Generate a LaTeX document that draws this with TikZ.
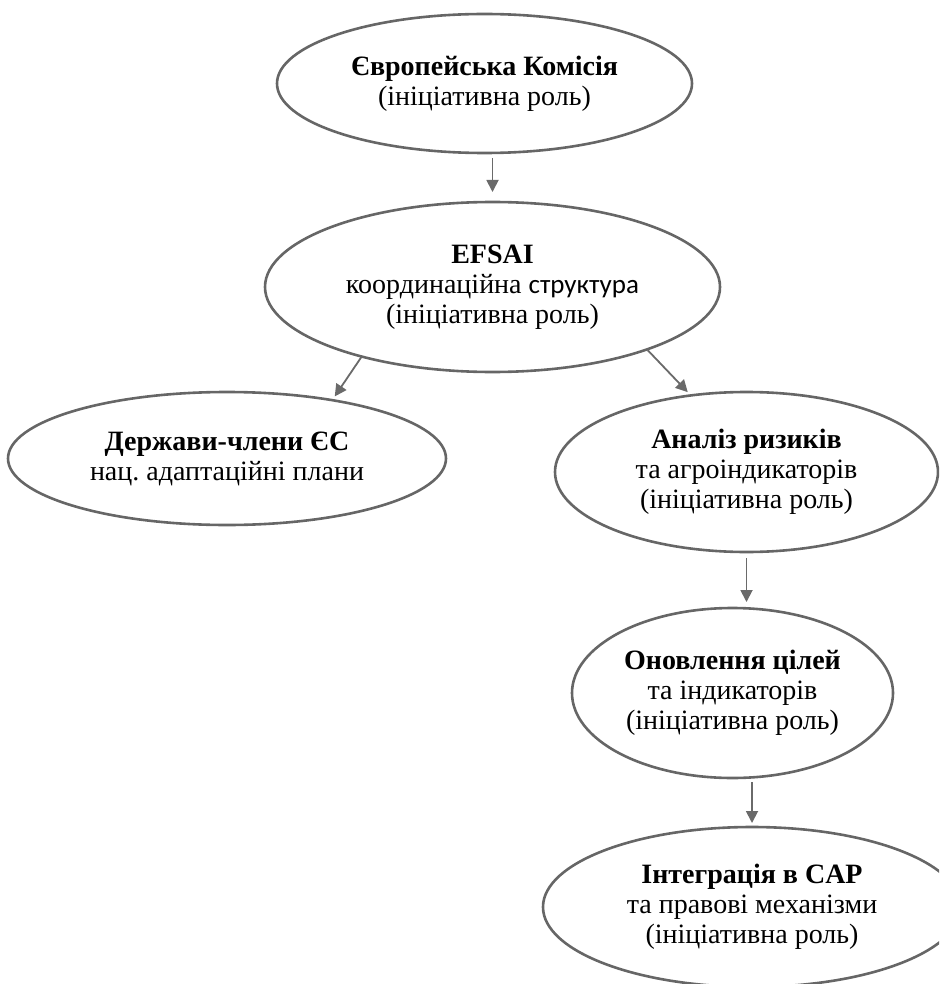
\documentclass[tikz,border=0pt]{standalone}
\usepackage{fontspec}
\setmainfont{Liberation Serif}
\newfontfamily\carlitofont{Carlito}
\usetikzlibrary{shapes.geometric,arrows.meta}
\definecolor{linegray}{HTML}{666666}
\definecolor{arrgray}{HTML}{6A6A6A}
\frenchspacing
\begin{document}
\begin{tikzpicture}[x=1pt,y=-1pt,
  oval/.style={ellipse, draw=linegray, line width=2.6pt, inner sep=0pt, outer sep=0pt,
    align=center, font=\fontsize{28}{30}\selectfont},
  arr/.style={draw=arrgray, line width=1.8pt, -{Triangle[length=12pt,width=12pt]}}]
\useasboundingbox (0,0) rectangle (939,984);
\clip (0,0) rectangle (939,984);

\node[oval, minimum width=415pt, minimum height=139pt] (e1) at (484.5,83.5)
  {\textbf{Європейська Комісія}\\(ініціативна роль)};
\node[oval, minimum width=455pt, minimum height=170pt] (e2) at (492.5,287)
  {\textbf{EFSAI}\\координаційна {\carlitofont\fontsize{27}{30}\selectfont структура}\\(ініціативна роль)};
\node[oval, minimum width=438pt, minimum height=133pt] (e3) at (227,458.5)
  {\textbf{Держави-члени ЄС}\\нац. адаптаційні плани};
\node[oval, minimum width=383pt, minimum height=160pt] (e4) at (746.5,472)
  {\textbf{Аналіз ризиків}\\та агроіндикаторів\\(ініціативна роль)};
\node[oval, minimum width=321pt, minimum height=170pt] (e5) at (732.5,693)
  {\textbf{Оновлення цілей}\\та індикаторів\\(ініціативна роль)};
\node[oval, minimum width=418pt, minimum height=160pt] (e6) at (752,907)
  {\textbf{Інтеграція в CAP}\\та правові механізми\\(ініціативна роль)};

\draw[arr, shorten <=5pt, shorten >=10pt] (e2.north |- e1.south) -- (e2.north);
\draw[arr, shorten <=1pt, shorten >=4.5pt] (e2.208.5) -- (e3.29.7);
\draw[arr, shorten <=1pt, shorten >=4.5pt] (e2.338.6) -- (e4.126.5);
\draw[arr, shorten <=6pt, shorten >=6pt] (e4.south) -- (e4.south |- e5.north);
\draw[arr, shorten <=4pt, shorten >=4pt] (e6.north |- e5.south) -- (e6.north);
\end{tikzpicture}
\end{document}
